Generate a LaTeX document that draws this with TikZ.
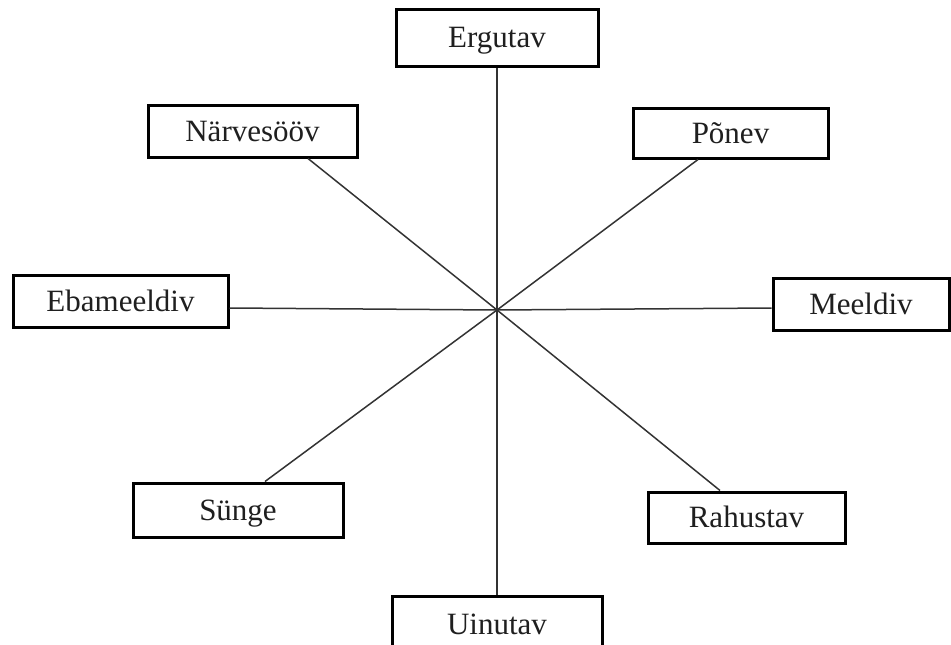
\documentclass[tikz,border=0pt]{standalone}
\usepackage{fontspec}
\setmainfont{Liberation Serif}
\usetikzlibrary{calc}
\tikzset{
  emobox/.style={draw=black, line width=3pt, fill=white, inner sep=0pt,
    font=\fontsize{31}{36}\selectfont, text=black!88,
    text height=20.5pt, text depth=0pt},
  spoke/.style={draw=black!80, line width=1.5pt}
}
\begin{document}
\begin{tikzpicture}[x=1pt,y=-1pt]
\useasboundingbox (0,0) rectangle (951,645);
\coordinate (c) at (497,310);
\node[emobox, minimum width=202pt, minimum height=57pt] (erg) at (497,37.5) {Ergutav};
\node[emobox, minimum width=209pt, minimum height=52pt] (narv) at (252.5,131) {Närvesööv};
\node[emobox, minimum width=195pt, minimum height=50pt] (pon) at (730.5,133) {Põnev};
\node[emobox, minimum width=215pt, minimum height=52pt] (eba) at (120.5,301) {Ebameeldiv};
\node[emobox, minimum width=176pt, minimum height=52pt] (mee) at (861,304) {Meeldiv};
\node[emobox, minimum width=210pt, minimum height=54pt] (sun) at (238,510) {Sünge};
\node[emobox, minimum width=197pt, minimum height=51pt] (rah) at (746.5,517.5) {Rahustav};
\node[emobox, minimum width=210pt, minimum height=56pt] (uin) at (497,624) {Uinutav};
\draw[spoke] (c) -- (erg.south);
\draw[spoke] (c) -- (uin.north);
\draw[spoke] (c) -- ([xshift=55.5pt]narv.south);
\draw[spoke] (c) -- ([xshift=-32.5pt]pon.south);
\draw[spoke] (c) -- ([yshift=-7pt]eba.east);
\draw[spoke] (c) -- ([yshift=-4pt]mee.west);
\draw[spoke] (c) -- ([xshift=27pt]sun.north);
\draw[spoke] (c) -- ([xshift=-26.5pt]rah.north);
\end{tikzpicture}
\end{document}
